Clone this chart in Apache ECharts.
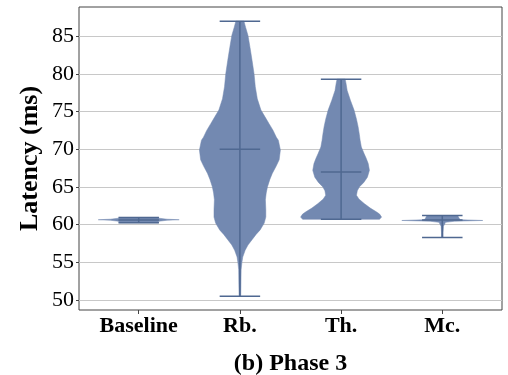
<!DOCTYPE html>
<html>
<head>
<meta charset="utf-8">
<script src="https://cdn.jsdelivr.net/npm/echarts@6/dist/echarts.min.js"></script>
<style>
html,body{margin:0;padding:0;background:#fff;}
#chart{width:508px;height:375px;}
</style>
</head>
<body>
<div id="chart"></div>
<script>
// ---- data ----
const categories = ['Baseline', 'Rb.', 'Th.', 'Mc.'];
const yTickValues = [50, 55, 60, 65, 70, 75, 80, 85];

// violin density profiles: levels (ms) and relative half-widths (0..1)
const baselineLevels = [60.25, 60.45, 60.58, 60.65, 60.72, 60.85, 60.95];
const baselineWidths = [0.48, 0.5, 0.7, 1.0, 0.7, 0.5, 0.48];

const rbLevels = [50.5, 52, 54, 55, 55.7, 56.6, 57.3, 58.0, 58.7, 59.3, 60.2, 61.0, 62.0, 63.3, 64.2, 65.0, 66.0, 66.8, 67.8, 68.6, 69.9, 71.2, 71.6, 72.5, 73.4, 74.3, 75.2, 76.7, 78.3, 80.0, 81.8, 83.5, 85.1, 86.2, 87.0];
const rbWidths = [0.02, 0.025, 0.03, 0.05, 0.07, 0.13, 0.2, 0.3, 0.4, 0.5, 0.6, 0.64, 0.64, 0.63, 0.65, 0.68, 0.74, 0.8, 0.9, 0.97, 1.0, 0.95, 0.9, 0.82, 0.72, 0.62, 0.52, 0.43, 0.38, 0.35, 0.3, 0.25, 0.2, 0.14, 0.1];

const thLevels = [60.7, 61.0, 61.4, 61.7, 62.2, 62.8, 63.4, 63.9, 64.5, 65.0, 65.6, 66.3, 67.2, 68.1, 68.8, 69.4, 70.3, 71.2, 72.0, 73.0, 74.0, 75.2, 76.5, 77.8, 78.8, 79.3];
const thWidths = [0.95, 1.0, 0.95, 0.87, 0.72, 0.57, 0.44, 0.38, 0.4, 0.45, 0.56, 0.65, 0.7, 0.67, 0.62, 0.57, 0.5, 0.47, 0.45, 0.42, 0.38, 0.32, 0.23, 0.15, 0.12, 0.1];

const mcLevels = [58.3, 59.0, 59.8, 60.3, 60.45, 60.55, 60.65, 60.8, 61.0, 61.2];
const mcWidths = [0.02, 0.02, 0.03, 0.08, 0.3, 1.0, 0.45, 0.42, 0.4, 0.38];

const mins = [60.25, 50.5, 60.7, 58.3];
const maxs = [60.95, 87.0, 79.3, 61.2];
const medians = [60.6, 70.0, 67.0, 60.6];

// ---- rendering ----
const profiles = [
  [baselineLevels, baselineWidths],
  [rbLevels, rbWidths],
  [thLevels, thWidths],
  [mcLevels, mcWidths]
];
const HALF = 0.4;   // max half-width in category units
const CAP = 0.2;    // half-width of caps / median line
const fillColor = '#7389b1';
const lineColor = '#4f6891';
const serif = "'Liberation Serif', 'Times New Roman', serif";

const chart = echarts.init(document.getElementById('chart'), null, {renderer: 'canvas'});

function renderViolin(params, api) {
  const i = api.value(0);
  const [levels, widths] = profiles[i];
  const right = [], left = [];
  for (let k = 0; k < levels.length; k++) {
    right.push(api.coord([i + widths[k] * HALF, levels[k]]));
    left.push(api.coord([i - widths[k] * HALF, levels[k]]));
  }
  const pts = right.concat(left.reverse());
  const children = [{
    type: 'polygon',
    shape: {points: pts, smooth: 0},
    style: {fill: fillColor, stroke: fillColor, lineWidth: 0.5}
  }];
  const line = (x1, y1, x2, y2) => {
    const a = api.coord([x1, y1]), b = api.coord([x2, y2]);
    return {type: 'line', shape: {x1: a[0], y1: a[1], x2: b[0], y2: b[1]},
      style: {stroke: lineColor, lineWidth: 1.5}};
  };
  children.push(line(i, mins[i], i, maxs[i]));
  children.push(line(i - CAP, mins[i], i + CAP, mins[i]));
  children.push(line(i - CAP, maxs[i], i + CAP, maxs[i]));
  children.push(line(i - CAP, medians[i], i + CAP, medians[i]));
  return {type: 'group', children: children};
}

const option = {
  animation: false,
  backgroundColor: '#fff',
  grid: {left: 79, right: 6, top: 7, bottom: 65, show: true, borderColor: '#444', borderWidth: 1,
    containLabel: false, outerBoundsMode: 'none'},
  xAxis: {
    type: 'value', min: -0.59, max: 3.59,
    name: '(b) Phase 3', nameLocation: 'middle', nameGap: 42, nameMoveOverlap: false,
    nameTextStyle: {fontFamily: serif, fontWeight: 'bold', fontSize: 24, color: '#000'},
    axisLine: {show: false, onZero: false},
    splitLine: {show: false},
    axisTick: {show: true, customValues: [0, 1, 2, 3], length: 4, lineStyle: {color: '#444'}},
    axisLabel: {customValues: [0, 1, 2, 3], margin: 5, fontFamily: serif, fontWeight: 'bold', fontSize: 22, color: '#000',
      formatter: v => categories[Math.round(v)]}
  },
  yAxis: {
    type: 'value', min: 48.67, max: 88.88, splitNumber: 8,
    name: 'Latency (ms)', nameLocation: 'middle', nameGap: 36, nameRotate: 90, nameMoveOverlap: false,
    nameTextStyle: {fontFamily: serif, fontWeight: 'bold', fontSize: 26, color: '#000'},
    axisLine: {show: false, onZero: false},
    splitLine: {show: true, lineStyle: {color: '#c8c8c8', width: 1}},
    axisTick: {show: true, customValues: yTickValues, length: 3, lineStyle: {color: '#444'}},
    axisLabel: {customValues: yTickValues, margin: 5, fontFamily: serif, fontSize: 22, color: '#000'}
  },
  series: [{
    type: 'custom',
    renderItem: renderViolin,
    data: categories.map((c, i) => [i]),
    encode: {x: 0},
    clip: true,
    z: 5
  }]
};
chart.setOption(option);
</script>
</body>
</html>
